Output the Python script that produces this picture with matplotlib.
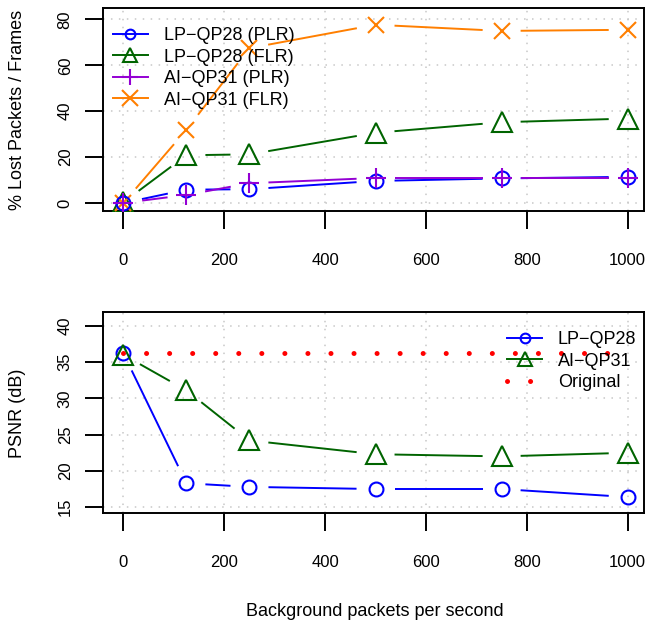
import matplotlib
matplotlib.use('Agg')
import matplotlib.pyplot as plt
from matplotlib.lines import Line2D
import numpy as np

plt.rcParams['font.family'] = ['Liberation Sans', 'DejaVu Sans']

# data
rate = [0, 125, 250, 500, 750, 1000]
lp_plr = [0, 5.8, 6.0, 9.6, 10.7, 11.4]
lp_flr = [0.3, 20.8, 21.2, 30.6, 35.2, 36.8]
ai_plr = [0, 3.5, 8.6, 10.9, 10.9, 10.9]
ai_flr = [0, 31.9, 67.5, 77.7, 75.0, 75.5]

psnr_lp = [36.2, 18.3, 17.8, 17.5, 17.5, 16.4]
psnr_ai = [36.0, 31.1, 24.2, 22.3, 22.0, 22.5]
psnr_orig = [36.2, 36.2, 36.2, 36.2, 36.2, 36.2]

top_labels = ['LP\u2212QP28 (PLR)', 'LP\u2212QP28 (FLR)', 'AI\u2212QP31 (PLR)', 'AI\u2212QP31 (FLR)']
bot_labels = ['LP\u2212QP28', 'AI\u2212QP31', 'Original']

BLUE = '#0000FF'
GREEN = '#006400'
PURPLE = '#9400D3'
ORANGE = '#FF7F00'
RED = '#FF0000'

fig = plt.figure(figsize=(6.45, 6.25), dpi=100)
ax1 = fig.add_axes([0.160, 0.6624, 0.839, 0.3248])
ax2 = fig.add_axes([0.160, 0.1792, 0.839, 0.3216])


def style(ax, ylim, yticks):
    ax.set_xlim(-40, 1033)
    ax.set_ylim(*ylim)
    ax.set_xticks([0, 200, 400, 600, 800, 1000])
    ax.set_yticks(yticks)
    ax.grid(True, color='#C8C8C8', linestyle=(0, (1, 4.2)), linewidth=1.1)
    ax.set_axisbelow(True)
    for s in ax.spines.values():
        s.set_linewidth(1.4)
    ax.tick_params(axis='x', direction='out', length=13, width=1.4, pad=17, labelsize=12)
    ax.tick_params(axis='y', direction='out', length=13, width=1.4, pad=9, labelsize=12,
                   labelrotation=90)
    for lab in ax.get_yticklabels():
        lab.set_va('center')


def gapped(ax, x, y, color, marker, ms, gap=19, z=2):
    # line segments stop short of each point, like R's type="b"
    pts = ax.transData.transform(np.column_stack([x, y]))
    inv = ax.transData.inverted()
    for p0, p1 in zip(pts[:-1], pts[1:]):
        d = p1 - p0
        L = np.hypot(*d)
        if L <= 2 * gap:
            continue
        u = d / L
        seg = inv.transform(np.array([p0 + u * gap, p1 - u * gap]))
        ax.plot(seg[:, 0], seg[:, 1], color=color, lw=1.4, zorder=z, solid_capstyle='butt')
    ax.plot(x, y, linestyle='none', marker=marker, ms=ms, mfc='none', mec=color, mew=1.5, zorder=z + 1)


style(ax1, (-3.5, 85), [0, 20, 40, 60, 80])
style(ax2, (14.2, 41.9), [15, 20, 25, 30, 35, 40])

gapped(ax1, rate, lp_flr, GREEN, '^', 14)
gapped(ax1, rate, ai_flr, ORANGE, 'x', 12)
gapped(ax1, rate, lp_plr, BLUE, 'o', 10)
gapped(ax1, rate, ai_plr, PURPLE, '+', 14)

h1 = [Line2D([], [], color=BLUE, lw=1.4, marker='o', ms=7, mfc='none', mew=1.5),
      Line2D([], [], color=GREEN, lw=1.4, marker='^', ms=10, mfc='none', mew=1.5),
      Line2D([], [], color=PURPLE, lw=1.4, marker='+', ms=12, mew=1.5),
      Line2D([], [], color=ORANGE, lw=1.4, marker='x', ms=11, mew=1.5)]
ax1.legend(h1, top_labels, loc='upper left', bbox_to_anchor=(0.0185, 1 - 19 / 203),
           frameon=False, fontsize=13, handlelength=1.9, handletextpad=0.9,
           labelspacing=0.25, borderpad=0, borderaxespad=0)

gapped(ax2, rate, psnr_lp, BLUE, 'o', 10)
gapped(ax2, rate, psnr_ai, GREEN, '^', 14)
ax2.plot(rate, psnr_orig, color=RED, lw=3.6, linestyle=(0, (0.01, 4.6)),
         dash_capstyle='round', zorder=4)

h2 = [Line2D([], [], color=BLUE, lw=1.4, marker='o', ms=7, mfc='none', mew=1.5),
      Line2D([], [], color=GREEN, lw=1.4, marker='^', ms=10, mfc='none', mew=1.5),
      Line2D([], [], color=RED, lw=3.6, linestyle=(0, (0.01, 4.6)), dash_capstyle='round')]
ax2.legend(h2, bot_labels, loc='upper left', bbox_to_anchor=(0.747, 1 - 19 / 201),
           frameon=False, fontsize=13, handlelength=1.9, handletextpad=0.9,
           labelspacing=0.25, borderpad=0, borderaxespad=0)

fig.text(18 / 645, 1 - 110 / 625, '% Lost Packets / Frames', rotation=90,
         ha='center', va='center', fontsize=13)
fig.text(18 / 645, 1 - 413 / 625, 'PSNR (dB)', rotation=90,
         ha='center', va='center', fontsize=13)
fig.text(375 / 645, 1 - 611 / 625, 'Background packets per second',
         ha='center', va='center', fontsize=13)

fig.savefig('out.png', dpi=100)
